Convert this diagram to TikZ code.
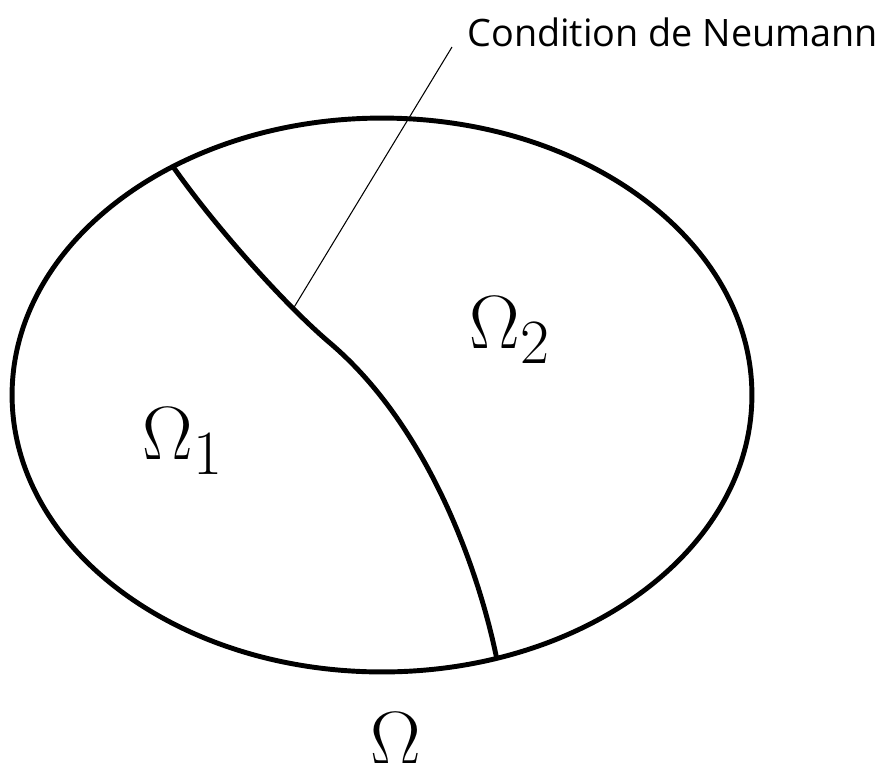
\documentclass[tikz,border=0pt]{standalone}
\usepackage{fontspec}
\newfontfamily\labelfont{Open Sans}
\usetikzlibrary{positioning}

\begin{document}
\begin{tikzpicture}[x=0.02cm,y=-0.02cm]
  \tikzset{
    boundary/.style={
      draw,
      line width=2.8pt
    },
    interface/.style={
      draw,
      line width=2.8pt
    },
    leader/.style={
      draw,
      line width=0.6pt
    },
    region/.style={
      font=\Huge,
      scale=1.73,
      transform shape,
      inner sep=0pt
    },
    annotation/.style={
      font=\labelfont\fontsize{21.5}{26}\selectfont,
      inner xsep=0.3cm,
      inner ysep=0pt,
      anchor=south west
    }
  }

  \useasboundingbox (0,0) rectangle (883,762);

  % Draw the outer domain
  \draw[boundary] (382,395) ellipse [x radius=7.4cm, y radius=5.54cm];

  % Draw the interface between the subdomains
  \draw[interface] (174,168) .. controls (214,225) and (284,304) .. (330,343)
    .. controls (430,428) and (480,575) .. (497,660);
  \coordinate (contact) at (293,309);

  % Add the labels
  \node[region] (omega1) at (183,441) {$\Omega_1$};
  \node[region] (omega2) at (510,330) {$\Omega_2$};
  \node[region] (omega) at (396,739) {$\Omega$};
  \node[annotation] (neumann) at (452,47) {Condition de Neumann};
  \draw[leader] (contact) -- (neumann.south west);

\end{tikzpicture}
\end{document}
